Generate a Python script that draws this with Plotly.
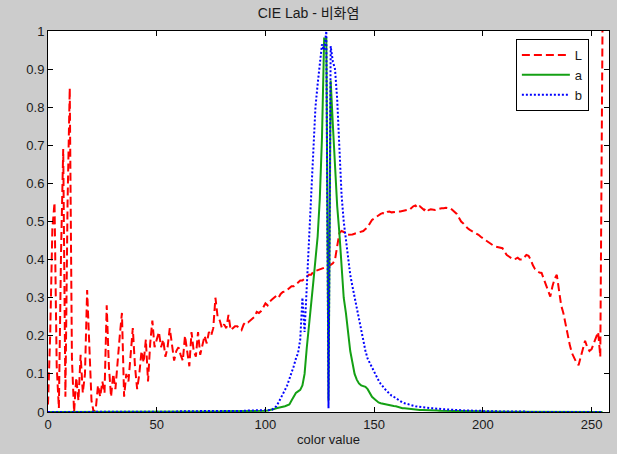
import plotly.graph_objects as go

color_values = list(range(256))

L_values = [
    0.02, 0.20, 0.48, 0.55, 0.12, 0.01, 0.42, 0.69, 0.04, 0.55,
    0.85, 0.14, 0.00, 0.09, 0.03, 0.15, 0.05, 0.10, 0.32, 0.18,
    0.03, 0.00, 0.01, 0.07, 0.04, 0.08, 0.05, 0.28, 0.12, 0.04,
    0.10, 0.06, 0.14, 0.20, 0.26, 0.04, 0.10, 0.08, 0.15, 0.22,
    0.12, 0.06, 0.10, 0.16, 0.13, 0.19, 0.08, 0.18, 0.24, 0.17,
    0.19, 0.21, 0.17, 0.19, 0.145, 0.17, 0.22, 0.18, 0.135, 0.16,
    0.17, 0.15, 0.135, 0.20, 0.16, 0.12, 0.21, 0.16, 0.145, 0.21,
    0.15, 0.18, 0.20, 0.18, 0.21, 0.20, 0.22, 0.30, 0.25, 0.24,
    0.22, 0.23, 0.22, 0.255, 0.215, 0.22, 0.225, 0.225, 0.22, 0.215,
    0.23, 0.237, 0.235, 0.24, 0.245, 0.25, 0.263, 0.26, 0.265, 0.275,
    0.285, 0.28, 0.29, 0.295, 0.30, 0.305, 0.30, 0.31, 0.315, 0.316,
    0.32, 0.325, 0.33, 0.33, 0.335, 0.34, 0.345, 0.345, 0.35, 0.355,
    0.36, 0.36, 0.368, 0.37, 0.372, 0.375, 0.376, 0.377, 0.38, 0.383,
    0.386, 0.39, 0.40, 0.434, 0.47, 0.475, 0.473, 0.47, 0.465, 0.465,
    0.466, 0.468, 0.47, 0.47, 0.472, 0.475, 0.48, 0.485, 0.495, 0.504,
    0.508, 0.512, 0.517, 0.52, 0.522, 0.52, 0.525, 0.526, 0.524, 0.525,
    0.527, 0.526, 0.526, 0.528, 0.53, 0.53, 0.53, 0.535, 0.54, 0.542,
    0.535, 0.54, 0.535, 0.53, 0.536, 0.53, 0.532, 0.53, 0.53, 0.532,
    0.534, 0.535, 0.535, 0.536, 0.535, 0.535, 0.53, 0.525, 0.52, 0.51,
    0.50, 0.495, 0.488, 0.482, 0.478, 0.475, 0.47, 0.467, 0.465, 0.46,
    0.456, 0.452, 0.447, 0.443, 0.44, 0.436, 0.434, 0.432, 0.43, 0.43,
    0.42, 0.412, 0.408, 0.404, 0.40, 0.402, 0.405, 0.40, 0.40, 0.406,
    0.412, 0.41, 0.40, 0.385, 0.375, 0.37, 0.366, 0.365, 0.35, 0.338,
    0.32, 0.303, 0.33, 0.35, 0.36, 0.32, 0.28, 0.26, 0.23, 0.198,
    0.175, 0.154, 0.14, 0.13, 0.123, 0.145, 0.171, 0.187, 0.17, 0.16,
    0.165, 0.18, 0.19, 0.21, 0.145, 1.0,
]

a_values = [
    0.0, 0.0, 0.0, 0.0, 0.0, 0.0, 0.0, 0.0, 0.0, 0.0,
    0.0, 0.0, 0.0, 0.0, 0.0, 0.0, 0.0, 0.0, 0.0, 0.0,
    0.0, 0.0, 0.0, 0.0, 0.0, 0.0, 0.0, 0.0, 0.0, 0.0,
    0.0, 0.0, 0.0, 0.0, 0.0, 0.0, 0.0, 0.0, 0.0, 0.0,
    0.0, 0.0, 0.0, 0.0, 0.0, 0.0, 0.0, 0.0, 0.0, 0.0,
    0.0, 0.0, 0.0, 0.0, 0.0, 0.0, 0.0, 0.0, 0.0, 0.0,
    0.0, 0.0, 0.0, 0.0, 0.0, 0.0, 0.0, 0.0, 0.0, 0.0,
    0.001, 0.001, 0.001, 0.001, 0.001, 0.001, 0.001, 0.001, 0.001, 0.001,
    0.002, 0.002, 0.002, 0.003, 0.003, 0.003, 0.003, 0.003, 0.003, 0.003,
    0.003, 0.003, 0.003, 0.003, 0.003, 0.003, 0.003, 0.003, 0.003, 0.003,
    0.003, 0.004, 0.005, 0.006, 0.008, 0.01, 0.012, 0.013, 0.014, 0.015,
    0.017, 0.02, 0.03, 0.04, 0.05, 0.054, 0.058, 0.07, 0.10, 0.168,
    0.22, 0.29, 0.34, 0.40, 0.46, 0.56, 0.72, 0.98, 0.98, 0.03,
    0.87, 0.754, 0.64, 0.54, 0.47, 0.38, 0.30, 0.26, 0.20, 0.16,
    0.13, 0.10, 0.085, 0.075, 0.07, 0.068, 0.066, 0.06, 0.05, 0.04,
    0.035, 0.03, 0.025, 0.023, 0.022, 0.021, 0.02, 0.02, 0.018, 0.016,
    0.015, 0.013, 0.012, 0.01, 0.01, 0.009, 0.008, 0.008, 0.007, 0.006,
    0.006, 0.005, 0.005, 0.005, 0.005, 0.004, 0.004, 0.004, 0.004, 0.004,
    0.003, 0.003, 0.003, 0.003, 0.003, 0.003, 0.003, 0.003, 0.003, 0.002,
    0.002, 0.002, 0.002, 0.002, 0.002, 0.002, 0.002, 0.002, 0.002, 0.002,
    0.001, 0.001, 0.001, 0.001, 0.001, 0.001, 0.001, 0.001, 0.001, 0.001,
    0.001, 0.001, 0.001, 0.001, 0.001, 0.0, 0.0, 0.0, 0.0, 0.0,
    0.0, 0.0, 0.0, 0.0, 0.0, 0.0, 0.0, 0.0, 0.0, 0.0,
    0.0, 0.0, 0.0, 0.0, 0.0, 0.0, 0.0, 0.0, 0.0, 0.0,
    0.0, 0.0, 0.0, 0.0, 0.0, 0.0, 0.0, 0.0, 0.0, 0.0,
    0.0, 0.0, 0.0, 0.0, 0.0, 0.0,
]

b_values = [
    0.0, 0.0, 0.0, 0.0, 0.0, 0.0, 0.0, 0.0, 0.0, 0.0,
    0.0, 0.0, 0.0, 0.0, 0.0, 0.0, 0.0, 0.0, 0.0, 0.0,
    0.0, 0.0, 0.0, 0.0, 0.0, 0.0, 0.0, 0.0, 0.0, 0.0,
    0.0, 0.0, 0.0, 0.0, 0.0, 0.0, 0.0, 0.0, 0.0, 0.0,
    0.0, 0.0, 0.0, 0.0, 0.0, 0.0, 0.0, 0.0, 0.0, 0.0,
    0.0, 0.0, 0.0, 0.0, 0.0, 0.001, 0.001, 0.001, 0.001, 0.001,
    0.002, 0.002, 0.002, 0.002, 0.002, 0.002, 0.002, 0.002, 0.002, 0.002,
    0.002, 0.002, 0.002, 0.002, 0.002, 0.003, 0.003, 0.003, 0.003, 0.003,
    0.003, 0.003, 0.003, 0.003, 0.003, 0.003, 0.003, 0.003, 0.003, 0.003,
    0.003, 0.003, 0.004, 0.004, 0.004, 0.004, 0.004, 0.004, 0.004, 0.004,
    0.004, 0.004, 0.005, 0.006, 0.01, 0.015, 0.025, 0.035, 0.045, 0.058,
    0.07, 0.085, 0.10, 0.12, 0.14, 0.155, 0.19, 0.30, 0.21, 0.33,
    0.45, 0.60, 0.70, 0.80, 0.86, 0.92, 0.965, 0.95, 1.0, 0.01,
    0.96, 0.92, 0.90, 0.82, 0.68, 0.57, 0.50, 0.45, 0.41, 0.36,
    0.33, 0.30, 0.276, 0.24, 0.21, 0.18, 0.16, 0.14, 0.128, 0.115,
    0.103, 0.093, 0.083, 0.074, 0.066, 0.06, 0.054, 0.048, 0.043, 0.04,
    0.036, 0.032, 0.028, 0.025, 0.023, 0.021, 0.019, 0.017, 0.016, 0.015,
    0.014, 0.013, 0.012, 0.012, 0.011, 0.011, 0.010, 0.010, 0.009, 0.009,
    0.008, 0.008, 0.007, 0.007, 0.006, 0.006, 0.006, 0.005, 0.005, 0.005,
    0.004, 0.004, 0.004, 0.004, 0.003, 0.003, 0.003, 0.003, 0.003, 0.003,
    0.002, 0.002, 0.002, 0.002, 0.002, 0.002, 0.002, 0.002, 0.001, 0.001,
    0.001, 0.001, 0.001, 0.001, 0.001, 0.001, 0.001, 0.001, 0.001, 0.001,
    0.0, 0.0, 0.0, 0.0, 0.0, 0.0, 0.0, 0.0, 0.0, 0.0,
    0.0, 0.0, 0.0, 0.0, 0.0, 0.0, 0.0, 0.0, 0.0, 0.0,
    0.0, 0.0, 0.0, 0.0, 0.0, 0.0, 0.0, 0.0, 0.0, 0.0,
    0.0, 0.0, 0.0, 0.0, 0.0, 0.0,
]

x_ticks = [0, 50, 100, 150, 200, 250]
y_ticks = [0, 0.1, 0.2, 0.3, 0.4, 0.5, 0.6, 0.7, 0.8, 0.9, 1]
y_tick_labels = ["0", "0.1", "0.2", "0.3", "0.4", "0.5", "0.6", "0.7", "0.8", "0.9", "1"]

FONT = "Liberation Sans, Arial, sans-serif"

fig = go.Figure()
fig.add_trace(go.Scatter(x=color_values, y=L_values, mode="lines", name="L",
                         line=dict(color="#ff0000", width=2, dash="8px,4px")))
fig.add_trace(go.Scatter(x=color_values, y=a_values, mode="lines", name="a",
                         line=dict(color="#14a014", width=2)))
fig.add_trace(go.Scatter(x=color_values, y=b_values, mode="lines", name="b",
                         line=dict(color="#0000ff", width=2, dash="2px,2px")))

fig.update_layout(
    width=617, height=454,
    margin=dict(l=48, r=8, t=31, b=42),
    paper_bgcolor="#cccccc",
    plot_bgcolor="#ffffff",
    font=dict(family=FONT, size=13, color="#1a1a1a"),
    title=dict(text="CIE Lab - 비화염", x=0.5, xanchor="center", y=1 - 13 / 454, yanchor="middle",
               font=dict(family="Liberation Sans, Noto Sans CJK KR, sans-serif", size=14, color="#1a1a1a")),
    showlegend=True,
    legend=dict(x=0.834, y=0.979, xanchor="left", yanchor="top",
                bgcolor="#ffffff", bordercolor="#000000", borderwidth=1,
                font=dict(family=FONT, size=13, color="#1a1a1a"),
                itemwidth=48, tracegroupgap=0),
    xaxis=dict(range=[0, 258], tickvals=x_ticks, ticktext=[str(v) for v in x_ticks],
               showgrid=False, zeroline=False, showline=True, linecolor="#000000", linewidth=1,
               mirror="ticks", ticks="inside", ticklen=5, tickcolor="#000000", automargin=False,
               title=dict(text="color value", standoff=4, font=dict(family=FONT, size=13))),
    yaxis=dict(range=[0, 1], tickvals=y_ticks, ticktext=y_tick_labels,
               showgrid=False, zeroline=False, showline=True, linecolor="#000000", linewidth=1,
               mirror="ticks", ticks="inside", ticklen=5, tickcolor="#000000", automargin=False),
)

fig.write_html("out.html", config={"displayModeBar": False},
               post_script="document.body.style.margin='0';document.body.style.padding='0';")
